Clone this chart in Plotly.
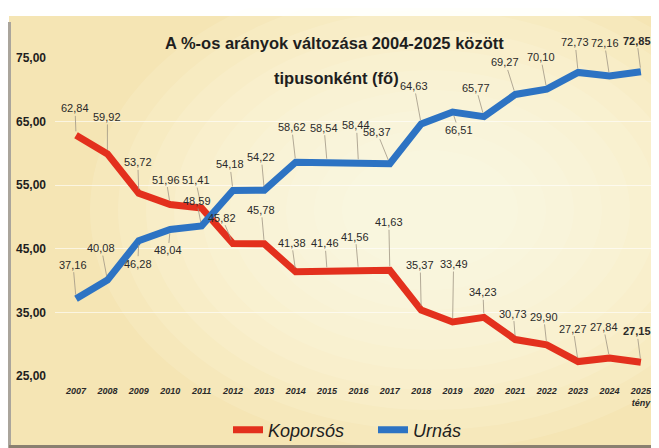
import plotly.graph_objects as go

years = list(range(2007, 2026))
tick_labels = [str(y) for y in range(2007, 2025)] + ["2025<br>tény"]
koporsos = [62.84, 59.92, 53.72, 51.96, 51.41, 45.82, 45.78, 41.38, 41.46, 41.56,
            41.63, 35.37, 33.49, 34.23, 30.73, 29.90, 27.27, 27.84, 27.15]
urnas = [37.16, 40.08, 46.28, 48.04, 48.59, 54.18, 54.22, 58.62, 58.54, 58.44,
         58.37, 64.63, 66.51, 65.77, 69.27, 70.10, 72.73, 72.16, 72.85]
y_ticks = [25, 35, 45, 55, 65, 75]

# label offsets (style only), pixels (ax, ay)
red_off = [(-1, -27), (0, -37), (-1, -31), (-4, -25), (-6, -28), (-11, -26), (-3, -34),
           (-4, -29), (-2, -28), (-3, -34), (-1, -48), (-1, -45), (1, -58), (-1, -25),
           (-2, -26), (-3, -28), (-5, -33), (-6, -31), (-4, -31)]
blue_off = [(-3, -34), (-6, -32), (-1, 23), (-2, 21), (-5, -25), (-3, -26), (-3, -33),
            (-4, -35), (-3, -35), (-2, -38), (-13, -32), (-7, -38), (6, 18), (-8, -29),
            (-10, -32), (-6, -32), (-3, -30), (-5, -33), (-4, -31)]

FONT = "Liberation Sans Narrow, Liberation Sans, Arial, sans-serif"
RED = "#e3301d"
BLUE = "#2d73c3"

# page has an 8px body margin; figure is sized to fit the window
OFF = 8
W, H = 659 - OFF, 448 - OFF
# plot area in screen pixels
SL, SR, ST, SB = 55, 655, 58, 376
ML, MR, MT, MB = SL - OFF, W - (SR - OFF), ST - OFF, H - (SB - OFF)
PW, PH = W - ML - MR, H - MT - MB


def px(sx):
    return (sx - OFF - ML) / PW


def py(sy):
    return (H - MB - (sy - OFF)) / PH


fig = go.Figure()
fig.add_trace(go.Scatter(x=years, y=koporsos, mode="lines", name="<i>Koporsós</i>",
                         line=dict(color=RED, width=7)))
fig.add_trace(go.Scatter(x=years, y=urnas, mode="lines", name="<i>Urnás</i>",
                         line=dict(color=BLUE, width=7)))

annotations = []
for series, offs in ((koporsos, red_off), (urnas, blue_off)):
    for i, (yr, v) in enumerate(zip(years, series)):
        txt = f"{v:.2f}".replace(".", ",")
        last = i == len(years) - 1
        annotations.append(dict(
            x=yr, y=v, xref="x", yref="y",
            text=f"<b>{txt}</b>" if last else txt,
            showarrow=True, arrowhead=0, arrowwidth=0.8, arrowcolor="#a09684",
            ax=offs[i][0], ay=offs[i][1], standoff=4,
            font=dict(family=FONT, size=11, color="#2a2a2a"),
        ))

annotations.append(dict(x=px(334), y=py(43), xref="paper", yref="paper",
                        xanchor="center", yanchor="middle",
                        text="<b>A %-os arányok változása 2004-2025 között</b>",
                        showarrow=False, font=dict(family=FONT, size=16.5, color="#1e1e1e")))
annotations.append(dict(x=px(336), y=py(78), xref="paper", yref="paper",
                        xanchor="center", yanchor="middle",
                        text="<b>tipusonként (fő)</b>",
                        showarrow=False, font=dict(family=FONT, size=16.5, color="#1e1e1e")))

shapes = [
    dict(type="rect", xref="paper", yref="paper", layer="below",
         x0=px(9), x1=px(670), y0=py(460), y1=py(16),
         fillcolor="#f5e5b4", line=dict(width=0)),
]
# soft light glow in the centre of the card
cx, cy = 430, 210
for k in range(10):
    rx = 340 - k * 28
    ry = 240 - k * 20
    shapes.append(dict(type="circle", xref="paper", yref="paper", layer="below",
                       x0=px(cx - rx), x1=px(cx + rx), y0=py(cy + ry), y1=py(cy - ry),
                       fillcolor="rgba(255,252,238,0.13)", line=dict(width=0)))
shapes += [
    dict(type="line", xref="paper", yref="paper", layer="below",
         x0=px(9.5), x1=px(9.5), y0=py(448), y1=py(22),
         line=dict(color="#aaa59c", width=3)),
    dict(type="line", xref="paper", yref="paper", layer="below",
         x0=px(9), x1=px(670), y0=py(446.5), y1=py(446.5),
         line=dict(color="#8a8070", width=3)),
]

fig.update_layout(
    width=W, height=H,
    margin=dict(l=ML, r=MR, t=MT, b=MB, autoexpand=False),
    paper_bgcolor="white",
    plot_bgcolor="rgba(0,0,0,0)",
    separators=",.",
    showlegend=True,
    legend=dict(orientation="h", x=px(228), xanchor="left", y=py(430), yanchor="middle",
                font=dict(family=FONT, size=18, color="#1e1e1e"),
                bgcolor="rgba(0,0,0,0)", itemwidth=30, entrywidthmode="pixels", entrywidth=100),
    annotations=annotations,
    shapes=shapes,
    xaxis=dict(range=[2006.33, 2025.45], tickmode="array", tickvals=years, ticktext=tick_labels,
               showgrid=False, zeroline=False, showline=False, automargin=False,
               tickfont=dict(family=FONT, size=9, color="#2a2a2a", style="italic", weight="bold"),
               ticklabelstandoff=8),
    yaxis=dict(range=[25, 75], tickmode="array", tickvals=y_ticks, tickformat=".2f",
               showgrid=True, gridcolor="rgba(255,255,255,0.6)", gridwidth=1,
               zeroline=False, showline=False, automargin=False,
               tickfont=dict(family=FONT, size=12, color="#1e1e1e", weight="bold"),
               ticklabelstandoff=8),
)

fig.write_html("out.html")
